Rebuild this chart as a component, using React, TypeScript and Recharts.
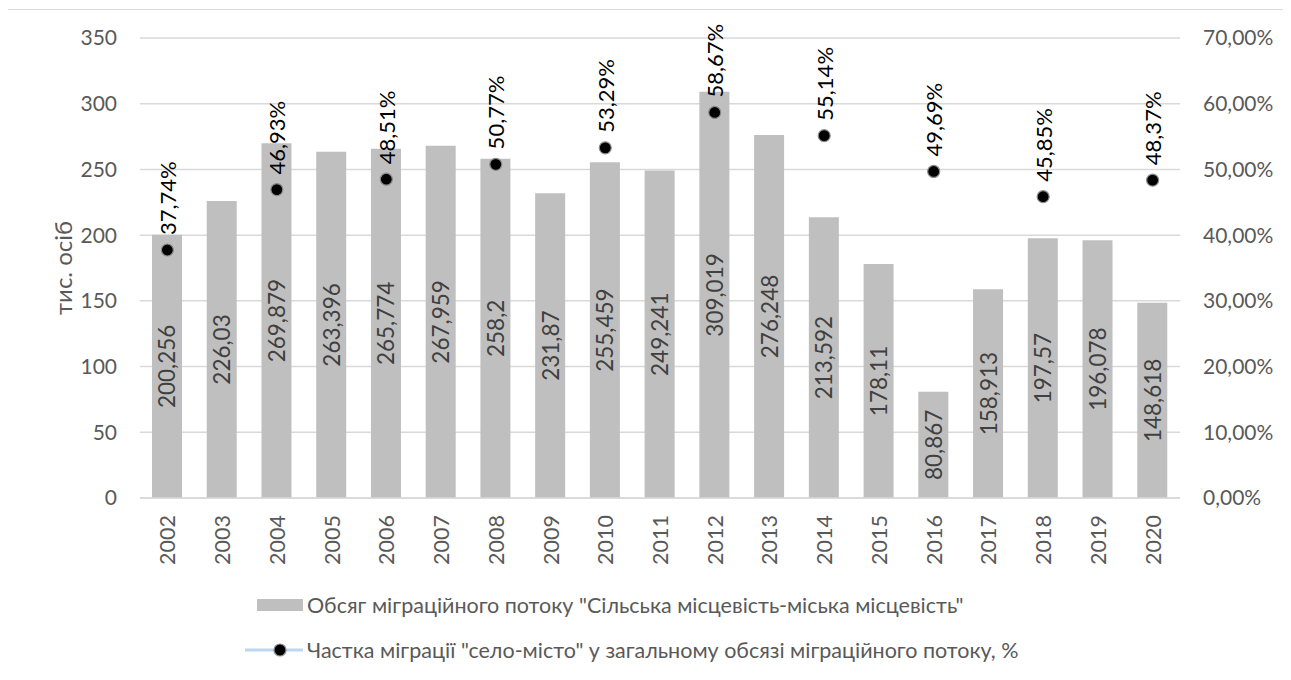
import React from "react";
import {
  ComposedChart,
  Bar,
  Line,
  XAxis,
  YAxis,
  CartesianGrid,
  Legend,
  LabelList,
} from "recharts";

const years: string[] = [
  "2002", "2003", "2004", "2005", "2006", "2007", "2008", "2009", "2010", "2011",
  "2012", "2013", "2014", "2015", "2016", "2017", "2018", "2019", "2020",
];

// обсяг потоку село-місто, тис. осіб
const volume: number[] = [
  200.256, 226.03, 269.879, 263.396, 265.774, 267.959, 258.2, 231.87, 255.459, 249.241,
  309.019, 276.248, 213.592, 178.11, 80.867, 158.913, 197.57, 196.078, 148.618,
];

// частка, % (лише парні роки)
const share: (number | null)[] = [
  37.74, null, 46.93, null, 48.51, null, 50.77, null, 53.29, null,
  58.67, null, 55.14, null, 49.69, null, 45.85, null, 48.37,
];

const leftTicks: number[] = [0, 50, 100, 150, 200, 250, 300, 350];
const rightTicks: number[] = [0, 10, 20, 30, 40, 50, 60, 70];

const barName = 'Обсяг міграційного потоку "Сільська місцевість-міська місцевість"';
const lineName = 'Частка міграції "село-місто" у загальному обсязі міграційного потоку, %';

const data = years.map((year, i) => ({ year, volume: volume[i], share: share[i] }));

const FONT = "Lato, 'Open Sans', sans-serif";
const TICK = "#595959";

const comma = (v: number) => String(v).replace(".", ",");

const XTick = (props: any) => {
  const { x, y, payload } = props;
  return (
    <g transform={`translate(${x},${y + 9})`}>
      <text
        transform="rotate(-90)"
        textAnchor="end"
        dominantBaseline="central"
        fill={TICK}
        fontSize={21.5}
        fontFamily={FONT}
      >
        {payload.value}
      </text>
    </g>
  );
};

const BarValue = (props: any) => {
  const { x, y, width, height, value } = props;
  const cx = x + width / 2;
  const cy = y + height / 2;
  return (
    <text
      x={cx}
      y={cy}
      transform={`rotate(-90, ${cx}, ${cy})`}
      textAnchor="middle"
      dominantBaseline="central"
      fill="#404040"
      fontSize={22.5}
      fontFamily={FONT}
    >
      {comma(value)}
    </text>
  );
};

const ShareValue = (props: any) => {
  const { x, y, value } = props;
  if (value == null) return null;
  const ly = y - 15;
  return (
    <text
      x={x}
      y={ly}
      transform={`rotate(-90, ${x}, ${ly})`}
      textAnchor="start"
      dominantBaseline="central"
      fill="#000000"
      fontSize={22}
      fontFamily={FONT}
    >
      {value.toFixed(2).replace(".", ",")}%
    </text>
  );
};

const ShareDot = (props: any) => {
  const { cx, cy, payload } = props;
  if (payload.share == null) return null;
  return <circle cx={cx} cy={cy} r={6} fill="#000000" stroke="#8c8c8c" strokeWidth={1.2} />;
};

const LegendBox = () => (
  <svg width={1291} height={104}>
    <rect x={257} y={31} width={46} height={12} fill="#BFBFBF" />
    <text x={307} y={37} dominantBaseline="central" fill={TICK} fontSize={21.5} fontFamily={FONT}>
      {barName}
    </text>
    <line x1={245} y1={82} x2={303} y2={82} stroke="#BDD7EE" strokeWidth={3} />
    <circle cx={280} cy={82} r={6} fill="#000000" stroke="#8c8c8c" strokeWidth={1.2} />
    <text x={307} y={82} dominantBaseline="central" fill={TICK} fontSize={21.5} fontFamily={FONT}>
      {lineName}
    </text>
  </svg>
);

const AxisTitle = (props: any) => {
  const { viewBox } = props;
  const x = viewBox.x + 32;
  const y = viewBox.y + viewBox.height / 2;
  return (
    <text
      x={x}
      y={y}
      transform={`rotate(-90, ${x}, ${y})`}
      textAnchor="middle"
      dominantBaseline="central"
      fill={TICK}
      fontSize={24}
      fontFamily={FONT}
    >
      тис. осіб
    </text>
  );
};

export default function App() {
  return (
    <div style={{ position: "relative", width: 1291, height: 680, margin: -8, background: "#fff" }}>
      <div
        style={{
          position: "absolute",
          left: 7,
          top: 9,
          width: 1284,
          height: 664,
          border: "1px solid #D9D9D9",
          boxSizing: "border-box",
        }}
      />
      <div style={{ position: "absolute", left: 0, top: 0 }}>
        <ComposedChart
          width={1291}
          height={680}
          data={data}
          margin={{ top: 38, right: 10, left: 30, bottom: 8 }}
          barSize={30}
        >
          <CartesianGrid vertical={false} stroke="#D9D9D9" strokeWidth={1.5} yAxisId="left" />
          <XAxis
            dataKey="year"
            height={70}
            tickLine={false}
            axisLine={{ stroke: "#D9D9D9", strokeWidth: 1.5 }}
            tick={<XTick />}
            interval={0}
          />
          <YAxis
            yAxisId="left"
            width={110}
            domain={[0, 350]}
            ticks={leftTicks}
            tickLine={false}
            axisLine={false}
            tickMargin={17}
            tick={{ fill: TICK, fontSize: 21, fontFamily: FONT }}
            label={<AxisTitle />}
          />
          <YAxis
            yAxisId="right"
            orientation="right"
            width={101}
            domain={[0, 70]}
            ticks={rightTicks}
            tickLine={false}
            axisLine={false}
            tickMargin={17}
            tick={{ fill: TICK, fontSize: 21, fontFamily: FONT, textAnchor: "start" }}
            tickFormatter={(v: number) => v.toFixed(2).replace(".", ",") + "%"}
          />
          <Legend
            verticalAlign="bottom"
            height={104}
            content={<LegendBox />}
            wrapperStyle={{ left: 0, width: 1291 }}
          />
          <Bar yAxisId="left" dataKey="volume" name={barName} fill="#BFBFBF" isAnimationActive={false}>
            <LabelList dataKey="volume" content={<BarValue />} />
          </Bar>
          <Line
            yAxisId="right"
            dataKey="share"
            name={lineName}
            stroke="none"
            dot={<ShareDot />}
            activeDot={false}
            isAnimationActive={false}
          >
            <LabelList dataKey="share" content={<ShareValue />} />
          </Line>
        </ComposedChart>
      </div>
    </div>
  );
}
